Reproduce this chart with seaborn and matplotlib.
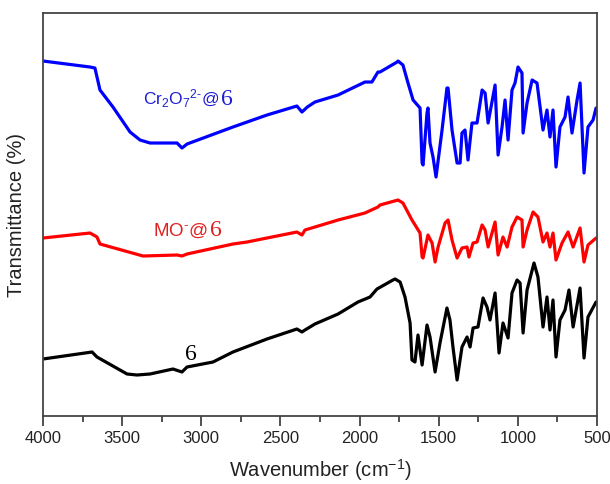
import numpy as np
import matplotlib
matplotlib.use("Agg")
import matplotlib.pyplot as plt
import seaborn as sns

# FTIR spectra (wavenumber in cm-1, transmittance in arbitrary units)
wn_blue = [4000, 3703, 3672, 3640, 3558, 3450, 3387, 3324, 3153, 3122, 3090, 2800, 2585, 2396, 2364,
           2330, 2282, 2136, 1966, 1922, 1884, 1871, 1763, 1757, 1726, 1694, 1662, 1618, 1605, 1599,
           1574, 1568, 1555, 1536, 1517, 1479, 1448, 1441, 1416, 1384, 1365, 1353, 1334, 1315, 1290,
           1258, 1226, 1207, 1188, 1144, 1125, 1100, 1081, 1062, 1037, 1018, 999, 974, 967, 942,
           910, 879, 841, 816, 797, 778, 759, 734, 702, 683, 658, 626, 607, 582, 557, 525, 506]
t_blue = [355, 349, 348, 326, 309, 284, 276, 273, 273, 268, 272, 289, 301, 310, 304,
          309, 314, 321, 334, 334, 344, 344, 354, 355, 351, 333, 316, 308, 253, 251,
          303, 308, 273, 259, 239, 286, 328, 328, 286, 253, 253, 283, 286, 256, 293,
          293, 326, 323, 293, 331, 261, 289, 316, 276, 326, 333, 349, 343, 283, 313,
          336, 333, 286, 306, 279, 306, 249, 289, 299, 319, 283, 316, 333, 243, 289, 296, 308]

wn_red = [4000, 3703, 3659, 3640, 3368, 3153, 3122, 3090, 2800, 2711, 2396, 2364, 2345, 2136,
          1966, 1884, 1871, 1757, 1726, 1669, 1618, 1605, 1599, 1568, 1542, 1523, 1504, 1460,
          1441, 1416, 1384, 1353, 1321, 1309, 1283, 1258, 1226, 1207, 1188, 1144, 1125, 1094,
          1068, 1037, 1005, 974, 967, 942, 904, 873, 841, 816, 797, 778, 759, 721, 683, 651,
          607, 582, 557, 506]
t_red = [178, 183, 179, 172, 160, 161, 160, 162, 172, 174, 184, 181, 186, 196,
         203, 209, 211, 216, 213, 196, 183, 159, 158, 181, 173, 154, 169, 193,
         196, 176, 158, 168, 169, 159, 173, 174, 191, 186, 169, 194, 161, 179,
         169, 189, 199, 196, 169, 186, 204, 199, 174, 183, 169, 183, 156, 173, 184, 169,
         188, 154, 171, 178]

wn_black = [4000, 3690, 3659, 3469, 3406, 3324, 3179, 3122, 3090, 2926, 2800, 2585, 2396, 2364,
            2345, 2282, 2136, 2010, 1934, 1890, 1789, 1776, 1744, 1713, 1681, 1669, 1650, 1631,
            1605, 1574, 1555, 1523, 1492, 1448, 1429, 1410, 1384, 1353, 1321, 1302, 1283, 1252,
            1220, 1195, 1176, 1144, 1119, 1094, 1062, 1037, 1005, 986, 967, 942, 898, 873,
            841, 816, 797, 778, 759, 734, 702, 677, 651, 607, 582, 557, 506]
t_black = [57, 64, 59, 42, 41, 42, 47, 44, 49, 54, 64, 77, 87, 84,
           86, 92, 102, 114, 119, 127, 136, 137, 134, 119, 93, 56, 54, 81,
           51, 91, 79, 44, 73, 108, 96, 69, 36, 69, 79, 69, 88, 89,
           118, 109, 96, 123, 63, 93, 78, 123, 136, 133, 83, 126, 153, 139,
           89, 119, 86, 116, 59, 96, 106, 126, 89, 128, 58, 99, 114]

x_ticks = [4000, 3500, 3000, 2500, 2000, 1500, 1000, 500]

sns.set_style("ticks")
plt.rcParams['font.family'] = ['Liberation Sans', 'DejaVu Sans']
plt.rcParams['mathtext.fontset'] = 'custom'
plt.rcParams['mathtext.rm'] = 'Liberation Sans'
plt.rcParams['mathtext.it'] = 'Liberation Sans'

fig = plt.figure(figsize=(6.1, 4.84), dpi=100)
ax = fig.add_axes([0.0705, 0.1405, 0.9082, 0.8326])

lw = 2.3
sns.lineplot(x=wn_blue, y=t_blue, color="#0000ff", lw=lw, ax=ax, sort=False, estimator=None)
sns.lineplot(x=wn_red, y=t_red, color="#ff0000", lw=lw, ax=ax, sort=False, estimator=None)
sns.lineplot(x=wn_black, y=t_black, color="black", lw=lw, ax=ax, sort=False, estimator=None)

ax.set_xlim(4000, 500)
ax.set_ylim(0, 403)
ax.set_xticks(x_ticks)
ax.set_xticks([3750, 3250, 2750, 2250, 1750, 1250, 750], minor=True)
ax.set_xticklabels([str(v) for v in x_ticks], fontsize=12, color="#222222")
ax.set_yticks([])
ax.tick_params(axis='x', which='major', length=7, width=1.2, direction='out', colors="#333333", labelcolor="#222222")
ax.tick_params(axis='x', which='minor', length=4, width=1.2, direction='out', colors="#333333")
for s in ax.spines.values():
    s.set_visible(True)
    s.set_linewidth(1.3)
    s.set_color("#444444")

ax.set_xlabel("Wavenumber (cm$^{-1}$)", fontsize=14.5, labelpad=8, color="#222222")
ax.set_ylabel("Transmittance (%)", fontsize=14.5, labelpad=12, color="#222222")


def label_with_six(x, y, text, color, size, six_size):
    # sans-serif formula followed by a serif "6", placed right after the formula
    t = ax.text(x, y, text, color=color, fontsize=size, va='baseline', ha='left')
    fig.canvas.draw()
    bb = t.get_window_extent(fig.canvas.get_renderer())
    _, yd = ax.transData.transform((x, y))
    x6, _ = ax.transData.inverted().transform((bb.x1 + 2, yd))
    ax.text(x6, y, "6", color=color, fontsize=six_size, va='baseline', ha='left',
            family='Liberation Serif')


label_with_six(3368, 311, r"Cr$_2$O$_7$$^{2\text{-}}$@", "#1f1fd0", 12.5, 17)
label_with_six(3305, 180, r"MO$^{\text{-}}$@", "#e02020", 13.5, 17)
ax.text(3103, 56, "6", color="black", fontsize=17, va='baseline', ha='left', family='Liberation Serif')

fig.savefig("out.png", dpi=100)
